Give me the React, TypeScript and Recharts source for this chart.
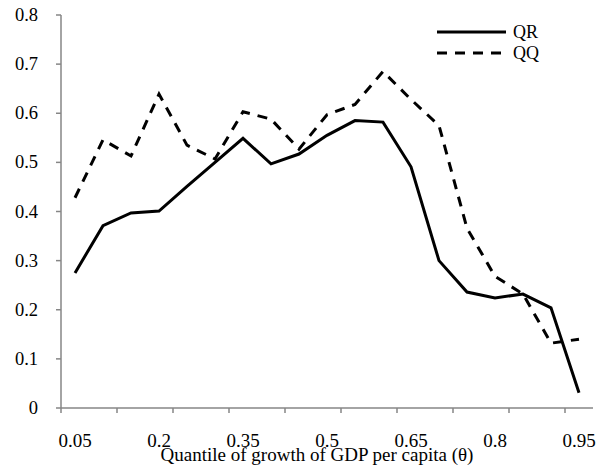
import React from 'react';
import { LineChart, Line, XAxis, YAxis, Legend } from 'recharts';

const quantiles = [0.05, 0.1, 0.15, 0.2, 0.25, 0.3, 0.35, 0.4, 0.45, 0.5, 0.55, 0.6, 0.65, 0.7, 0.75, 0.8, 0.85, 0.9, 0.95];
const qrValues = [0.275, 0.371, 0.397, 0.401, 0.451, 0.5, 0.549, 0.497, 0.517, 0.555, 0.585, 0.582, 0.491, 0.3, 0.236, 0.224, 0.232, 0.204, 0.031];
const qqValues = [0.428, 0.546, 0.513, 0.639, 0.535, 0.507, 0.603, 0.588, 0.527, 0.597, 0.618, 0.685, 0.628, 0.575, 0.366, 0.268, 0.232, 0.132, 0.14];
const xTickLabels = [0.05, 0.2, 0.35, 0.5, 0.65, 0.8, 0.95];
const xTickMarks = [0.025, 0.125, 0.225, 0.325, 0.425, 0.525, 0.625, 0.725, 0.825, 0.925];
const yTicks = [0, 0.1, 0.2, 0.3, 0.4, 0.5, 0.6, 0.7, 0.8];
const seriesNames = ['QR', 'QQ'];
const xTitle = 'Quantile of growth of GDP per capita (\u03b8)';

const data = quantiles.map((q, i) => ({ q, QR: qrValues[i], QQ: qqValues[i] }));
const allXTicks = [...xTickMarks, ...xTickLabels].sort((a, b) => a - b);

const FONT = "'Liberation Serif', 'Times New Roman', serif";
const xStyle = { fontFamily: FONT, fontSize: 19, fill: '#000' };
const yStyle = { fontFamily: FONT, fontSize: 18.5, fill: '#000' };
const legendStyle = { fontFamily: FONT, fontSize: 18, fill: '#000' };
const AXIS = '#868686';
const TICK_SIZE = 5;
const X_MARGIN = 22;

const XTick = (props: any) => {
  const { x, y, payload } = props;
  const v = payload.value;
  if (xTickLabels.includes(v)) {
    return (
      <text x={x} y={y} dy={12} textAnchor="middle" style={xStyle}>
        {String(v)}
      </text>
    );
  }
  return <line x1={x} x2={x} y1={y - TICK_SIZE - X_MARGIN} y2={y - X_MARGIN} stroke={AXIS} strokeWidth={1.5} />;
};

const YTick = (props: any) => {
  const { x, y, payload } = props;
  return (
    <text x={x} y={y} dy={6} textAnchor="end" style={yStyle}>
      {String(payload.value)}
    </text>
  );
};

const TitleLabel = (props: any) => {
  const vb = props.viewBox || { x: 61, y: 408, width: 532, height: 56 };
  return (
    <text x={vb.x + vb.width / 2 - 10} y={vb.y + vb.height - 3} textAnchor="middle" style={xStyle}>
      {xTitle}
    </text>
  );
};

const LegendContent = () => (
  <svg width={130} height={46} style={{ display: 'block' }}>
    <line x1={0} x2={69} y1={12} y2={12} stroke="#000" strokeWidth={3} />
    <text x={76} y={18} style={legendStyle}>{seriesNames[0]}</text>
    <line x1={0} x2={69} y1={33} y2={33} stroke="#000" strokeWidth={3} strokeDasharray="10 8" />
    <text x={76} y={39} style={legendStyle}>{seriesNames[1]}</text>
  </svg>
);

export default function App() {
  return (
    <div style={{ position: 'absolute', left: 0, top: 0, background: '#fff', fontFamily: FONT }}>
      <LineChart width={605} height={471} data={data} margin={{ top: 15, right: 12, left: 0, bottom: 7 }}>
        <XAxis
          dataKey="q"
          type="number"
          domain={[0.025, 0.975]}
          ticks={allXTicks}
          interval={0}
          tickLine={false}
          tickSize={TICK_SIZE}
          tickMargin={X_MARGIN}
          tick={<XTick />}
          axisLine={{ stroke: AXIS, strokeWidth: 1.5 }}
          height={56}
          label={<TitleLabel />}
        />
        <YAxis
          type="number"
          domain={[0, 0.8]}
          ticks={yTicks}
          interval={0}
          width={61}
          tickSize={TICK_SIZE}
          tickMargin={18}
          axisLine={{ stroke: AXIS, strokeWidth: 1.5 }}
          tickLine={{ stroke: AXIS, strokeWidth: 1.5 }}
          tick={<YTick />}
        />
        <Legend
          layout="vertical"
          align="center"
          verticalAlign="middle"
          content={<LegendContent />}
          wrapperStyle={{ left: 437, top: 20, width: 130, height: 46 }}
        />
        <Line dataKey="QR" name={seriesNames[0]} type="linear" stroke="#000" strokeWidth={3} dot={false} isAnimationActive={false} />
        <Line dataKey="QQ" name={seriesNames[1]} type="linear" stroke="#000" strokeWidth={3} strokeDasharray="10 8" dot={false} isAnimationActive={false} />
      </LineChart>
    </div>
  );
}
